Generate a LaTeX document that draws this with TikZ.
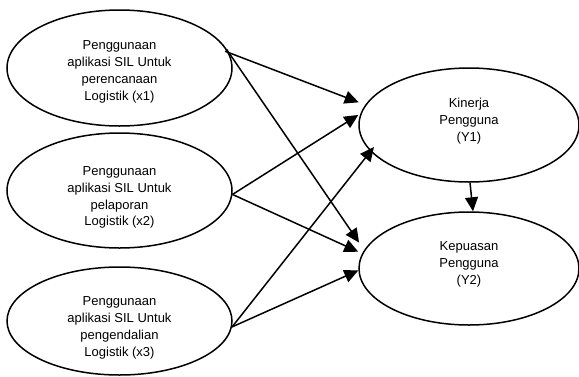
\documentclass[tikz,border=0pt]{standalone}
\usepackage{fontspec}
\setmainfont{Liberation Sans}
\usetikzlibrary{shapes.geometric,arrows.meta}
\begin{document}
\begin{tikzpicture}[x=1pt,y=-1pt,
  var/.style={ellipse, draw, line width=1.5pt, inner sep=0pt},
  txt/.style={inner sep=0pt, align=center, font=\fontsize{13}{16.8}\selectfont},
  arr/.style={-{Triangle[length=14pt,width=13pt]}, line width=1.5pt}]
\useasboundingbox (0,0) rectangle (579,376);
\node[var, minimum width=225pt, minimum height=116pt] (x1) at (119.5,68) {};
\node[var, minimum width=225pt, minimum height=115pt] (x2) at (119.5,190.5) {};
\node[var, minimum width=225pt, minimum height=108pt] (x3) at (119.5,321) {};
\node[var, minimum width=220pt, minimum height=114pt] (y1) at (469,125) {};
\node[var, minimum width=220pt, minimum height=113pt] (y2) at (469,268.5) {};
\node[txt] (t1) at ([yshift=-4pt]x1.center) {Penggunaan\\aplikasi SIL Untuk\\perencanaan\\Logistik (x1)};
\node[txt] (t2) at ([yshift=-7pt]x2.center) {Penggunaan\\aplikasi SIL Untuk\\pelaporan\\Logistik (x2)};
\node[txt] (t3) at ([yshift=-7pt]x3.center) {Penggunaan\\aplikasi SIL Untuk\\pengendalian\\Logistik (x3)};
\node[txt] (t4) at ([yshift=4pt]y1.center) {Kinerja\\Pengguna\\(Y1)};
\node[txt] (t5) at ([yshift=4pt]y2.center) {Kepuasan\\Pengguna\\(Y2)};
\draw[arr, shorten <=-4pt, shorten >=7pt] (x1.8) -- (y1.169.4);
\draw[arr, shorten <=-4pt, shorten >=9pt] (x1.8) -- (y2.170.3);
\draw[arr, shorten >=2.5pt] (x2.-2.3) -- (y1.174);
\draw[arr, shorten >=4.3pt] (x2.-2.3) -- (y2.172);
\draw[arr, shorten >=-5.6pt] (x3.-3.6) -- (y1.195.2);
\draw[arr] (x3.-3.6) -- (y2.181);
\draw[arr] (y1.-89) -- (y2.86);
\end{tikzpicture}
\end{document}
